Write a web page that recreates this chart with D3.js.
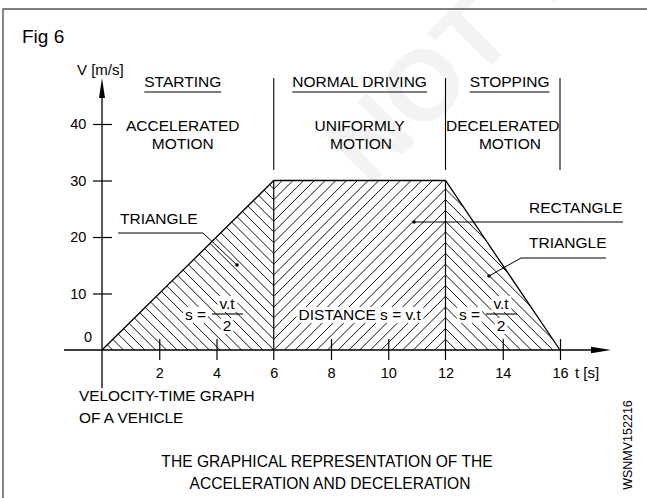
<!DOCTYPE html>
<html>
<head>
<meta charset="utf-8">
<script src="https://cdn.jsdelivr.net/npm/d3@7"></script>
<style>
  html, body { margin: 0; padding: 0; background: #fff; }
  svg { display: block; font-family: "Liberation Sans", Arial, Helvetica, sans-serif; }
</style>
</head>
<body>
<svg id="chart" width="647" height="498"></svg>
<script>
// Corner points of the velocity-time profile
const timePoints = [0, 6, 12, 16];
const velocityPoints = [0, 30, 30, 0];

// Driving phases and their kind of motion
const phaseNames = ["STARTING", "NORMAL DRIVING", "STOPPING"];
const phaseMotions = [["ACCELERATED", "MOTION"], ["UNIFORMLY", "MOTION"], ["DECELERATED", "MOTION"]];
const phaseEnds = [6, 12, 16];

// Area shapes under the curve
const areaShapes = ["TRIANGLE", "RECTANGLE", "TRIANGLE"];

// Axis ticks
const xTickValues = [2, 4, 6, 8, 10, 12, 14, 16];
const yTickValues = [10, 20, 30, 40];

const svg = d3.select("#chart");
const x = d3.scaleLinear().domain([0, 16]).range([102, 560]);
const y = d3.scaleLinear().domain([0, 40]).range([350, 124]);
const ink = "#000";

// faint watermark
svg.append("text")
  .attr("transform", "translate(369,188) rotate(-45)")
  .attr("font-size", 100).attr("font-weight", "bold")
  .attr("fill", "#f3f3f3")
  .text("NOT TO");

// frame
svg.append("path").attr("d", "M3,498V9H647")
  .attr("fill", "none").attr("stroke", "#555").attr("stroke-width", 1.4);

svg.append("text").attr("x", 22).attr("y", 43).attr("font-size", 19).attr("fill", ink).text("Fig 6");

// ---- hatched areas ----
const defs = svg.append("defs");
const step = (x(12) - x(6)) / 16;
const hatchDir = [1, -1, 1];
for (let i = 0; i < 3; i++) {
  const pts = [[timePoints[i], 0], [timePoints[i], velocityPoints[i]],
               [timePoints[i + 1], velocityPoints[i + 1]], [timePoints[i + 1], 0]];
  defs.append("clipPath").attr("id", "seg" + i)
    .append("polygon").attr("points", pts.map(p => [x(p[0]), y(p[1])].join(",")).join(" "));
  const g = svg.append("g").attr("clip-path", `url(#seg${i})`)
    .attr("stroke", "#111").attr("stroke-width", 1);
  const ax = x(6), ay = y(0), L = 500;
  for (let k = -60; k <= 60; k++) {
    const cy = ay - k * step;
    const d = hatchDir[i];
    g.append("line")
      .attr("x1", ax - L).attr("y1", cy - d * L)
      .attr("x2", ax + L).attr("y2", cy + d * L);
  }
}

// profile outline
const profile = timePoints.map((t, i) => [t, velocityPoints[i]]);
svg.append("path")
  .attr("d", d3.line().x(d => x(d[0])).y(d => y(d[1]))(profile))
  .attr("fill", "none").attr("stroke", ink).attr("stroke-width", 1.3);
[6, 12].forEach(t => {
  svg.append("line").attr("x1", x(t)).attr("x2", x(t))
    .attr("y1", y(30)).attr("y2", y(0) + 10)
    .attr("stroke", ink).attr("stroke-width", 1.2);
});

// ---- axes ----
const xAxis = svg.append("g").attr("transform", `translate(0,${y(0)})`)
  .call(d3.axisBottom(x).tickValues(xTickValues).tickSize(10).tickSizeOuter(0).tickPadding(18));
xAxis.select(".domain").remove();
xAxis.selectAll(".tick line").attr("y1", -11).attr("stroke", ink).attr("stroke-width", 1.2);
xAxis.selectAll(".tick text").attr("font-size", 14.5).attr("font-family", null).attr("fill", ink).attr("dy", "0");
xAxis.selectAll(".tick").filter(d => d === 6 || d === 12).select("line").remove();

const yAxis = svg.append("g").attr("transform", `translate(${x(0)},0)`)
  .call(d3.axisLeft(y).tickValues(yTickValues).tickSize(9).tickSizeOuter(0).tickPadding(6));
yAxis.select(".domain").remove();
yAxis.selectAll(".tick line").attr("x1", 10).attr("stroke", ink).attr("stroke-width", 1.2);
yAxis.selectAll(".tick text").attr("font-size", 14.5).attr("font-family", null).attr("fill", ink).attr("dx", "-0.05em");

svg.append("text").attr("x", x(0) - 10).attr("y", y(0) - 8)
  .attr("text-anchor", "end").attr("font-size", 14.5).attr("fill", ink).text("0");

// axis lines with arrow heads
svg.append("line").attr("x1", 64).attr("x2", 595).attr("y1", y(0)).attr("y2", y(0))
  .attr("stroke", ink).attr("stroke-width", 1.3);
svg.append("path").attr("d", `M611,${y(0)}L591,${y(0) - 3.2}L591,${y(0) + 3.2}Z`).attr("fill", ink);
svg.append("line").attr("x1", x(0)).attr("x2", x(0)).attr("y1", 388).attr("y2", 95)
  .attr("stroke", ink).attr("stroke-width", 1.3);
svg.append("path").attr("d", `M${x(0)},78L${x(0) - 3},98L${x(0) + 3},98Z`).attr("fill", ink);

svg.append("text").attr("x", 77).attr("y", 75).attr("font-size", 15).attr("fill", ink).text("V [m/s]");
svg.append("text").attr("x", 575).attr("y", 378).attr("font-size", 15).attr("fill", ink).text("t [s]");

// ---- phase headers ----
phaseEnds.forEach(t => {
  svg.append("line").attr("x1", x(t)).attr("x2", x(t)).attr("y1", 78).attr("y2", 170)
    .attr("stroke", ink).attr("stroke-width", 1.1);
});
const headerCenters = [2.82, 9.0, 14.24];
const motionCenters = [[2.82, 2.82], [9.0, 9.05], [14.0, 14.25]];
phaseNames.forEach((name, i) => {
  const t = svg.append("text").attr("x", x(headerCenters[i])).attr("y", 87)
    .attr("text-anchor", "middle").attr("font-size", 15.5).attr("fill", ink).text(name);
  const b = t.node().getBBox();
  svg.append("line").attr("x1", b.x).attr("x2", b.x + b.width).attr("y1", 92).attr("y2", 92)
    .attr("stroke", ink).attr("stroke-width", 1.1);
  phaseMotions[i].forEach((m, j) => {
    svg.append("text").attr("x", x(motionCenters[i][j])).attr("y", 131 + j * 18)
      .attr("text-anchor", "middle").attr("font-size", 15.5).attr("fill", ink).text(m);
  });
});

// ---- text with white backing inside hatched areas ----
function boxedText(px, py, str, anchor, size) {
  const g = svg.append("g");
  const t = g.append("text").attr("x", px).attr("y", py).attr("text-anchor", anchor)
    .attr("font-size", size).attr("fill", ink).text(str);
  const b = t.node().getBBox();
  g.insert("rect", "text").attr("x", b.x - 2).attr("y", b.y + 1).attr("width", b.width + 4)
    .attr("height", b.height - 1).attr("fill", "#fff");
  return g;
}
function halfFormula(cx, cy) {
  boxedText(cx - 21, cy + 6, "s =", "end", 15.5);
  boxedText(cx, cy - 5, "v.t", "middle", 15.5);
  boxedText(cx, cy + 17, "2", "middle", 15.5);
  svg.append("line").attr("x1", cx - 15).attr("x2", cx + 16).attr("y1", cy).attr("y2", cy)
    .attr("stroke", ink).attr("stroke-width", 1.1);
}
halfFormula(227, 314);
halfFormula(501, 314);
boxedText(x(9), 320, "DISTANCE s = v.t", "middle", 15.5);

// ---- area labels with leader lines ----
function leader(points, label, lx, ly) {
  svg.append("path").attr("d", d3.line()(points)).attr("fill", "none")
    .attr("stroke", ink).attr("stroke-width", 1);
  const dot = points[points.length - 1];
  svg.append("circle").attr("cx", dot[0]).attr("cy", dot[1]).attr("r", 1.8).attr("fill", ink);
  svg.append("text").attr("x", lx).attr("y", ly).attr("font-size", 15.5).attr("fill", ink).text(label);
}
leader([[118, 233], [203, 233], [237, 265]], areaShapes[0], 120, 224);
leader([[623, 222], [414, 222]], areaShapes[1], 529, 213);
leader([[606, 258], [521, 258], [489, 276]], areaShapes[2], 529, 248);

// ---- captions ----
svg.append("text").attr("x", 79).attr("y", 401).attr("font-size", 15.4).attr("fill", ink).text("VELOCITY-TIME GRAPH");
svg.append("text").attr("x", 79).attr("y", 423).attr("font-size", 15.4).attr("fill", ink).text("OF A VEHICLE");
svg.append("text").attr("x", 327).attr("y", 467).attr("text-anchor", "middle").attr("font-size", 15.6)
  .attr("fill", ink).text("THE GRAPHICAL REPRESENTATION OF THE");
svg.append("text").attr("x", 330).attr("y", 489).attr("text-anchor", "middle").attr("font-size", 15.6)
  .attr("fill", ink).text("ACCELERATION AND DECELERATION");
svg.append("text").attr("transform", "translate(632,445) rotate(-90)").attr("text-anchor", "middle")
  .attr("font-size", 12.5).attr("fill", ink).text("WSNMV152216");
</script>
</body>
</html>
